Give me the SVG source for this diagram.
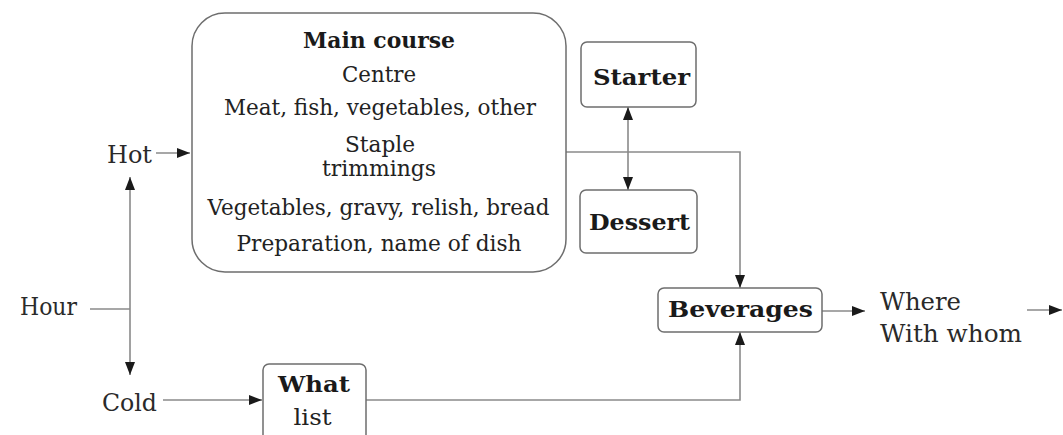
<svg xmlns="http://www.w3.org/2000/svg" width="1063" height="435" viewBox="0 0 1063 435">
<defs>
<marker id="ah" markerUnits="userSpaceOnUse" markerWidth="14" markerHeight="11" refX="13" refY="5" orient="auto-start-reverse">
<path d="M0,0 L13,5 L0,10 z" fill="#1a1a1a"/>
</marker>
<style>
.box{fill:#fff;stroke:#6e6e6e;stroke-width:1.5}
text{font-family:'DejaVu Serif','Liberation Serif',serif}
.t{font-size:22px;fill:#222}
.s{font-size:25px;fill:#2a2a2a}
.b{font-size:23px;font-weight:bold;fill:#1a1a1a}
.c{text-anchor:middle}
.ln{fill:none;stroke:#8a8a8a;stroke-width:1.6}
</style>
</defs>
<rect width="1063" height="435" fill="#fff"/>
<g id="connectors">
<path class="ln" d="M90,309 H130"/>
<path class="ln" d="M130,177 V375" marker-start="url(#ah)" marker-end="url(#ah)"/>
<path class="ln" d="M156,153 H190" marker-end="url(#ah)"/>
<path class="ln" d="M163,400 H262" marker-end="url(#ah)"/>
<path class="ln" d="M366,400 H740 V332" marker-end="url(#ah)"/>
<path class="ln" d="M566,152 H740 V288" marker-end="url(#ah)"/>
<path class="ln" d="M628,107 V190" marker-start="url(#ah)" marker-end="url(#ah)"/>
<path class="ln" d="M822,311 H865" marker-end="url(#ah)"/>
<path class="ln" d="M1027,310 H1062" marker-end="url(#ah)"/>
</g>
<g id="main-course">
<rect class="box" x="192" y="13" width="374" height="259" rx="33"/>
<text class="b c" x="379" y="48" textLength="152" lengthAdjust="spacingAndGlyphs">Main course</text>
<text class="t c" x="379" y="82" textLength="74" lengthAdjust="spacingAndGlyphs">Centre</text>
<text class="t c" x="380" y="115" textLength="312" lengthAdjust="spacingAndGlyphs">Meat, fish, vegetables, other</text>
<text class="t c" x="380" y="152" textLength="70" lengthAdjust="spacingAndGlyphs">Staple</text>
<text class="t c" x="379" y="176" textLength="114" lengthAdjust="spacingAndGlyphs">trimmings</text>
<text class="t c" x="378.5" y="215" textLength="342" lengthAdjust="spacingAndGlyphs">Vegetables, gravy, relish, bread</text>
<text class="t c" x="379" y="251" textLength="285" lengthAdjust="spacingAndGlyphs">Preparation, name of dish</text>
</g>
<g id="starter">
<rect class="box" x="581" y="42" width="115" height="65" rx="6"/>
<text class="b c" x="641.5" y="85" textLength="97" lengthAdjust="spacingAndGlyphs">Starter</text>
</g>
<g id="dessert">
<rect class="box" x="580" y="190" width="117" height="63" rx="6"/>
<text class="b c" x="639.5" y="230" textLength="101" lengthAdjust="spacingAndGlyphs">Dessert</text>
</g>
<g id="beverages">
<rect class="box" x="658" y="288" width="164" height="44" rx="6"/>
<text class="b c" x="740.5" y="317" textLength="145" lengthAdjust="spacingAndGlyphs">Beverages</text>
</g>
<g id="what">
<rect class="box" x="263" y="364" width="103" height="80" rx="6"/>
<text class="b c" x="314" y="392" textLength="72" lengthAdjust="spacingAndGlyphs">What</text>
<text class="t c" x="312.5" y="425" textLength="38" lengthAdjust="spacingAndGlyphs">list</text>
</g>
<g id="hot"><text class="s" x="107" y="163" textLength="45" lengthAdjust="spacingAndGlyphs">Hot</text></g>
<g id="hour"><text class="s" x="20" y="315" textLength="57" lengthAdjust="spacingAndGlyphs">Hour</text></g>
<g id="cold"><text class="s" x="102" y="411" textLength="55" lengthAdjust="spacingAndGlyphs">Cold</text></g>
<g id="where">
<text class="s" x="880" y="310" textLength="81" lengthAdjust="spacingAndGlyphs">Where</text>
<text class="s" x="880" y="342" textLength="142" lengthAdjust="spacingAndGlyphs">With whom</text>
</g>
</svg>
